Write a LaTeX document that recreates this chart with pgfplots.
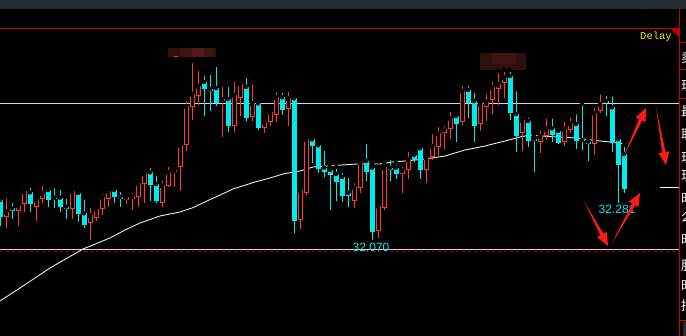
\documentclass[border=0pt]{standalone}
\usepackage{pgfplots}
\pgfplotsset{compat=1.18}
\usepackage{pgfplotstable}
\usepackage{fontspec}
\setmainfont{Liberation Sans}
\newfontfamily\monof{Liberation Mono}
\newfontfamily\cjk{Noto Sans CJK SC}
\usetikzlibrary{calc}
\definecolor{candred}{RGB}{255,55,55}
\definecolor{candcyan}{RGB}{0,235,235}
\definecolor{linered}{RGB}{200,0,0}
\definecolor{topgray}{RGB}{40,43,48}
\definecolor{arrred}{RGB}{255,25,25}
\definecolor{delayyel}{RGB}{235,235,0}
\definecolor{hline}{RGB}{215,215,215}
\definecolor{maline}{RGB}{235,235,235}
\definecolor{blurA}{RGB}{45,16,16}
\definecolor{blurB}{RGB}{62,20,20}
\definecolor{blurC}{RGB}{82,26,26}

% screen rows (y grows downward): hi = wick top, top/bot = body, lo = wick bottom
\pgfplotstableread{
x hi top bot lo
6 196.7 211.7 216.7 227.7
18 202 205.3 210.7 225.7
24 190 191 204.3 211.7
36 196 199.3 206.7 221
42 184 193.3 199.3 202.7
72 188 191.3 209.3 218.7
90 206 215.3 222.7 240
96 205.7 209 217.7 220.7
102 192 197 209.3 215
108 190 191 198.7 206.7
126 194 196.7 200.3 204.3
132 191 196 199.5 209.7
138 181.7 183.3 196.7 206.7
144 171 173.3 184.3 202.7
162 179 185.3 202.7 206.7
168 165 172.3 185.7 186.7
174 166 170 172.3 186.7
180 142 145 166.7 190.7
186 99 106 145.5 150.7
192 61 94 107.5 120
198 69 86 95.7 105
222 85 99.3 101.3 136.7
234 80 95 125.7 131.7
240 83.3 84 98.5 116
252 82.3 103.3 117.5 120.7
264 117.7 122.3 127.7 132.7
270 108.3 112 121.7 125.7
276 90 97.3 115.3 121.7
288 90 98.3 109.3 125.7
300 186 190.3 220.3 228.7
306 136.7 139.3 192.7 195
354 181 187.3 200.7 207.7
360 160 162 187.7 192.7
378 204 206 230.7 237.7
384 162.7 167.3 207.7 210
402 165 170.3 173.7 192.7
408 150 159.3 170.3 179
426 153.3 157.3 170 182.7
432 132 146 157.3 160
438 125 133.3 146.7 156.7
444 124 129.3 132.7 149
450 110 118.3 128.7 139
462 84 91 122 125
480 99.3 103.3 124 130.7
486 92.3 102.3 106.7 121
492 80 87.3 99.7 114
498 71 84 88.7 105
504 70 77.3 83.5 97.7
522 115 120 133.3 150.7
540 129 136 141.7 152.7
546 116.7 129 136 140
564 120 129 141.7 145.7
570 116 123.3 130 133.3
594 106 113.3 144.3 155
600 92.3 104 110.7 113.3
}\upcandles

\pgfplotstableread{
x hi top bot lo
0 199 200 216.7 225.7
12 201 208.3 210.7 218.7
30 186 192.3 204 211.7
48 186 190 200 206.7
54 186 197.7 199.3 207.7
60 188 197.7 206.7 211.7
66 196.7 206.7 208.7 218.7
78 193 193 213.7 221.7
84 197.7 213.3 224.7 227.7
114 188 190 196.7 202.7
120 190 197 199.3 206.7
150 166 172.3 185 200.7
156 174 184 200.7 203.3
204 74 82 89.5 115.7
210 73 89 91 110.7
216 65 88 103.3 105.7
228 85 99 125.7 131.7
246 76 87 117.7 121.3
258 99 103.3 127.7 130
282 91 97.3 110 115
294 94 98.3 221 232.7
312 136 139.3 145.7 162.7
318 142.3 145.3 168.7 173.3
324 149 167.7 171.7 176.7
330 165.7 170 174.7 209.7
336 166.7 174 181.7 200.7
342 171 177 195.7 201.7
348 176 193 195.7 206.7
366 142 161 171.7 180.7
372 165 167.7 232.5 239.7
390 158 167.7 170 180.7
396 162.7 167.7 173.7 179
414 152.7 155 160 161.7
420 146 148.3 170 179
456 113.3 116 124 141.7
468 84 90 103.3 118.3
474 91 101 125.7 141.7
510 70 76 113.3 120
516 89.3 114 135.7 151.7
528 115.7 121 140.7 146.7
534 136 139 140.7 171.7
552 116.7 128.3 135 141.7
558 126.7 131 142.7 144
576 112.3 124 141 149
582 103.3 140 141.5 150
588 138.3 141.7 144.3 160.7
606 94 101 102.7 116
612 94.3 107.3 142.7 151.7
618 136.7 139.3 165 202.7
624 145 154 189 192.7
}\downcandles

\newcommand\tarrow[2]{%
  \coordinate (ta) at (#1);
  \coordinate (tb) at (#2);
  \coordinate (th) at ($(tb)!13pt!(ta)$);
  \fill[arrred] (ta) -- ($(th)!1.7pt!90:(tb)$) -- ($(th)!5.5pt!90:(tb)$) -- (tb)
     -- ($(th)!5.5pt!-90:(tb)$) -- ($(th)!1.7pt!-90:(tb)$) -- cycle;
}

\begin{document}
\begin{tikzpicture}
\fill[black] (0,0) rectangle (686pt,336pt);
% background decorations in screen pixels (y downward)
\begin{scope}[x=1pt, y=-1pt, yshift=336pt]
\clip (0,0) rectangle (686,336);
\fill[topgray] (0,0) rectangle (686,9);
\draw[linered, line width=1pt] (0,28.3) -- (679,28.3);
\draw[linered, line width=1pt] (679.5,9) -- (679.5,336);
\fill[linered] (670,28.3) -- (679.5,28.3) -- (679.5,37.5) -- cycle;
\foreach \yy in {42,69,98,320} {\draw[linered, line width=0.8pt] (679.5,\yy) -- (686,\yy);}
\fill[topgray] (682.5,322) rectangle (686,336);
\draw[hline, line width=1pt] (0,103.3) -- (679,103.3);
\draw[hline, line width=1pt] (0,250) -- (679,250);
\draw[red!60!black, line width=0.6pt, dash pattern=on 3pt off 3pt] (0,251.6) -- (679,251.6);
\draw[white, line width=1pt] (660,188) -- (679,188);
% blurred (masked) labels
\fill[blurA] (168,48) rectangle (216,57);
\fill[blurB] (180,48) rectangle (192,57);
\fill[blurC] (192,48) rectangle (204,57);
\fill[blurB] (204,48) rectangle (213,57);
\fill[candred] (174,56) rectangle (178,57);
\fill[blurA] (480,53) rectangle (526,70);
\fill[blurB] (492,53) rectangle (516,64);
\end{scope}

\begin{axis}[
  at={(0,0)}, anchor=south west,
  scale only axis, width=686pt, height=336pt,
  xmin=0, xmax=686, ymin=0, ymax=336, y dir=reverse,
  hide axis, clip=true,
]
% moving average
\addplot[maline, line width=0.9pt, forget plot] coordinates {
(0,301) (20,288) (50,268) (83,249) (110,238) (125,230) (140,223) (160,216)
(180,212) (192,208) (207,201) (218,196) (233,189) (255,182) (270,178) (283,174)
(300,171) (313,167) (327,166) (357,164) (380,164) (392,162) (405,161) (425,159)
(445,156) (465,150) (485,146) (505,141) (520,137) (530,135) (540,136) (576,138)
(600,141) (610,142) (624,144)};

% wicks (one segment from hi down to lo)
\addplot[only marks, mark=none, forget plot,
  error bars/.cd, y dir=plus, y explicit, error mark=none,
  error bar style={draw=candred, line width=1pt}]
  table[x=x, y=hi, y error expr={\thisrow{lo}-\thisrow{hi}}] {\upcandles};
\addplot[only marks, mark=none, forget plot,
  error bars/.cd, y dir=plus, y explicit, error mark=none,
  error bar style={draw=candcyan, line width=1pt}]
  table[x=x, y=hi, y error expr={\thisrow{lo}-\thisrow{hi}}] {\downcandles};
% bodies (one segment from top down to bot)
\addplot[only marks, mark=none, forget plot,
  error bars/.cd, y dir=plus, y explicit, error mark=none,
  error bar style={draw=candred, line width=5pt}]
  table[x=x, y=top, y error expr={max(\thisrow{bot}-\thisrow{top},1.2)}] {\upcandles};
\addplot[only marks, mark=none, forget plot,
  error bars/.cd, y dir=plus, y explicit, error mark=none,
  error bar style={draw=black, line width=3pt}]
  table[x=x, y expr={\thisrow{top}+1}, y error expr={max(\thisrow{bot}-\thisrow{top}-2,0)}] {\upcandles};
\addplot[only marks, mark=none, forget plot,
  error bars/.cd, y dir=plus, y explicit, error mark=none,
  error bar style={draw=candcyan, line width=5pt}]
  table[x=x, y=top, y error expr={max(\thisrow{bot}-\thisrow{top},1.2)}] {\downcandles};
\end{axis}

% foreground annotations in screen pixels
\begin{scope}[x=1pt, y=-1pt, yshift=336pt]
\clip (0,0) rectangle (686,336);
\node[anchor=base, text=candcyan, font=\fontsize{12}{12}\selectfont, inner sep=0pt] at (371,252) {32.070};
\node[anchor=base, text=candcyan, font=\fontsize{12}{12}\selectfont, inner sep=0pt] at (617,214) {32.281};
\node[anchor=base west, text=delayyel, font=\monof\fontsize{10.5}{10.5}\selectfont, inner sep=0pt] at (640,40) {Delay};
\foreach \yy/\ch in {63/卖,91/现,117/最,140/取,163/现,181/现,204/时,222/么,245/时,271/服,291/时,311/持} {
  \node[anchor=base west, text=white, font=\cjk\fontsize{13}{13}\selectfont, inner sep=0pt] at (681,\yy) {\ch};
}
\tarrow{584,201}{608,246}
\tarrow{611,245}{640,193}
\tarrow{623,158}{646,108}
\tarrow{656,107}{666,165}
\end{scope}
\pgfresetboundingbox
\useasboundingbox (0,0) rectangle (686pt,336pt);
\end{tikzpicture}
\end{document}
